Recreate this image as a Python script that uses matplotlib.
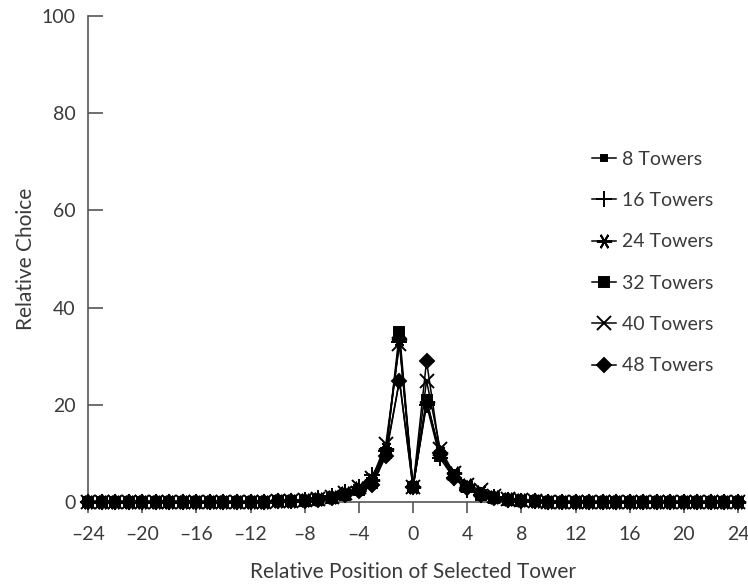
import matplotlib
matplotlib.use("Agg")
import matplotlib.pyplot as plt

positions = list(range(-24, 25))

towers_8 = [0, 0, 0, 0, 0, 0, 0, 0, 0, 0, 0, 0, 0.1, 0.1, 0.2, 0.2,
            0.3, 0.5, 0.8, 1.5, 2.5, 5, 10, 25, 3, 21, 10, 5, 3, 1.5,
            0.8, 0.5, 0.3, 0.2, 0.1, 0.1, 0, 0, 0, 0, 0, 0, 0, 0, 0, 0, 0, 0, 0]
towers_16 = [0, 0, 0, 0, 0, 0, 0, 0, 0, 0, 0, 0, 0.1, 0.1, 0.2, 0.3,
             0.5, 0.8, 1.2, 2, 3, 5.5, 10.5, 33, 3, 20, 9, 5, 2.5, 1.5,
             1, 0.5, 0.3, 0.2, 0.1, 0.1, 0, 0, 0, 0, 0, 0, 0, 0, 0, 0, 0, 0, 0]
towers_24 = [0, 0, 0, 0, 0, 0, 0, 0, 0, 0, 0, 0, 0.1, 0.1, 0.2, 0.3,
             0.4, 0.6, 1, 1.8, 2.8, 4.5, 11, 33.5, 3, 20.5, 10, 6, 3.5, 2,
             1, 0.6, 0.4, 0.2, 0.1, 0.1, 0, 0, 0, 0, 0, 0, 0, 0, 0, 0, 0, 0, 0]
towers_32 = [0, 0, 0, 0, 0, 0, 0, 0, 0, 0, 0, 0, 0.1, 0.1, 0.2, 0.2,
             0.3, 0.5, 0.9, 1.5, 2.5, 4, 10, 35, 3, 21, 9.5, 5.5, 3, 1.5,
             0.8, 0.5, 0.3, 0.2, 0.1, 0.1, 0, 0, 0, 0, 0, 0, 0, 0, 0, 0, 0, 0, 0]
towers_40 = [0, 0, 0, 0, 0, 0, 0, 0, 0, 0, 0, 0, 0.1, 0.1, 0.2, 0.3,
             0.4, 0.7, 1, 1.8, 3, 5, 12, 32.5, 3, 25, 11, 6, 3.5, 2.5,
             1.2, 0.6, 0.4, 0.2, 0.1, 0.1, 0, 0, 0, 0, 0, 0, 0, 0, 0, 0, 0, 0, 0]
towers_48 = [0, 0, 0, 0, 0, 0, 0, 0, 0, 0, 0, 0, 0.1, 0.1, 0.2, 0.2,
             0.3, 0.5, 0.8, 1.4, 2.2, 3.5, 9.5, 25, 3, 29, 10, 5, 2.8, 1.5,
             0.8, 0.5, 0.3, 0.2, 0.1, 0.1, 0, 0, 0, 0, 0, 0, 0, 0, 0, 0, 0, 0, 0]

series = [
    ("8 Towers", towers_8, "s", 4),
    ("16 Towers", towers_16, "+", 12),
    ("24 Towers", towers_24, (6, 2, 90), 11),
    ("32 Towers", towers_32, "s", 7),
    ("40 Towers", towers_40, "x", 10),
    ("48 Towers", towers_48, "D", 7),
]

xticks = list(range(-24, 25, 4))
yticks = [0, 20, 40, 60, 80, 100]

plt.rcParams['font.family'] = ['Lato', 'DejaVu Sans']
textc = '#3a3a3a'

fig = plt.figure(figsize=(7.48, 5.85), dpi=100)
ax = fig.add_axes([88/748, 1 - 502/585, 650/748, (502 - 16)/585])

for label, vals, mk, ms in series:
    ax.plot(positions, vals, color='black', lw=1.1, marker=mk, markersize=ms,
            markeredgewidth=1.4, label=label, clip_on=False, zorder=3)

ax.set_xlim(-24, 24)
ax.set_ylim(0, 100)
ax.set_xticks(xticks)
ax.set_xticklabels([str(t).replace('-', '\u2013') for t in xticks])
ax.set_yticks(yticks)
ax.spines['top'].set_visible(False)
ax.spines['right'].set_visible(False)
for s in ['left', 'bottom']:
    ax.spines[s].set_color('#555555')
    ax.spines[s].set_linewidth(1.2)
ax.tick_params(axis='y', direction='in', length=11, width=1.2, color='#555555',
               labelsize=14, labelcolor=textc, pad=9)
ax.tick_params(axis='x', direction='out', length=8, width=1.2, color='#555555',
               labelsize=14, labelcolor=textc, pad=9)

ax.set_xlabel("Relative Position of Selected Tower", fontsize=15, color=textc, labelpad=14)
ax.set_ylabel("Relative Choice", fontsize=15, color=textc)
ax.yaxis.set_label_coords(-0.08, 0.5)

leg = ax.legend(loc='upper left', bbox_to_anchor=(584/748, 1 - 143/585),
                bbox_transform=fig.transFigure, frameon=False, fontsize=14,
                handlelength=1.25, handletextpad=0.3, labelspacing=1.25,
                labelcolor=textc, borderaxespad=0)

fig.savefig("out.png", dpi=100)
